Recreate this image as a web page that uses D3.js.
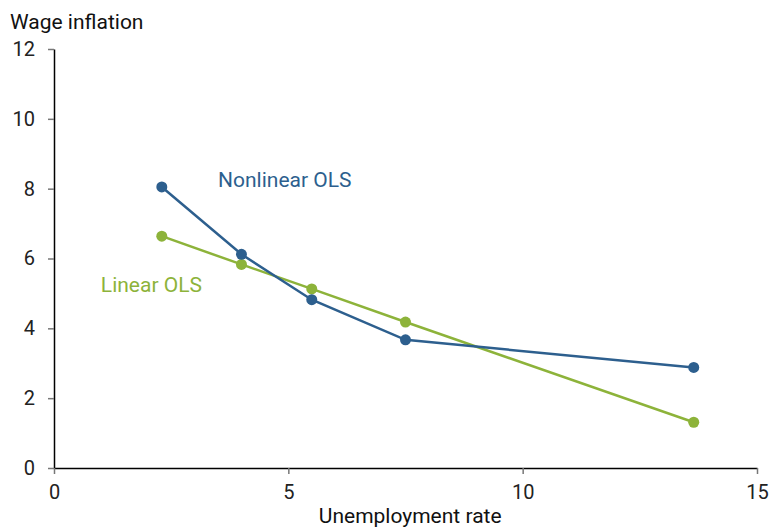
<!DOCTYPE html>
<html lang="en">
<head>
    <meta charset="UTF-8">
    <title>Wage inflation</title>
    <script src="https://cdn.jsdelivr.net/npm/d3@7"></script>
    <style>
        body { margin: 0; background: #fff; }
        text { font-family: Roboto, sans-serif; }
        .axis text { font-size: 20px; fill: #222; }
        .axis .domain { stroke: #000; stroke-width: 1.5px; }
        .axis .tick line { stroke: #777; stroke-width: 1.5px; }
    </style>
</head>
<body>
<svg width="772" height="527"></svg>
<script>
    var unemployment = [2.3, 4.0, 5.5, 7.5, 13.65];
    var nonlinearOLS = [8.05, 6.12, 4.82, 3.67, 2.88];
    var linearOLS = [6.64, 5.83, 5.13, 4.18, 1.31];
    var xTicks = [0, 5, 10, 15];
    var yTicks = [0, 2, 4, 6, 8, 10, 12];

    var svg = d3.select("svg"),
        margin = { top: 49, right: 15, bottom: 59, left: 54 },
        width = +svg.attr("width") - margin.left - margin.right,
        height = +svg.attr("height") - margin.top - margin.bottom,
        g = svg.append("g").attr("transform", "translate(" + margin.left + "," + margin.top + ")");

    var x = d3.scaleLinear().domain([0, 15]).range([0, width]);
    var y = d3.scaleLinear().domain([0, 12]).range([height, 0]);

    g.append("g")
        .attr("class", "axis axis--y")
        .call(d3.axisLeft(y).tickValues(yTicks).tickSize(6).tickSizeOuter(0).tickPadding(13));

    g.append("g")
        .attr("class", "axis axis--x")
        .attr("transform", "translate(0," + height + ")")
        .call(d3.axisBottom(x).tickValues(xTicks).tickSize(6).tickSizeOuter(0).tickPadding(11));

    var line = d3.line()
        .x(function (d, i) { return x(unemployment[i]); })
        .y(function (d) { return y(d); });

    var series = [
        { name: "Linear OLS", values: linearOLS, color: "#8db33a", lx: 1.0, ly: 5.03 },
        { name: "Nonlinear OLS", values: nonlinearOLS, color: "#2d5f8e", lx: 3.5, ly: 8.04 }
    ];

    series.forEach(function (s) {
        g.append("path")
            .datum(s.values)
            .attr("fill", "none")
            .attr("stroke", s.color)
            .attr("stroke-width", 2.5)
            .attr("d", line);
        g.selectAll(null)
            .data(s.values)
            .enter()
            .append("circle")
            .attr("r", 5.5)
            .attr("fill", s.color)
            .attr("cx", function (d, i) { return x(unemployment[i]); })
            .attr("cy", function (d) { return y(d); });
        g.append("text")
            .attr("x", x(s.lx))
            .attr("y", y(s.ly))
            .attr("fill", s.color)
            .style("font-size", "21px")
            .text(s.name);
    });

    svg.append("text")
        .attr("x", 10)
        .attr("y", 29)
        .style("font-size", "21px")
        .attr("fill", "#111")
        .text("Wage inflation");

    svg.append("text")
        .attr("x", margin.left + x(7.6))
        .attr("y", 523)
        .attr("text-anchor", "middle")
        .style("font-size", "21px")
        .attr("fill", "#111")
        .text("Unemployment rate");
</script>
</body>
</html>
